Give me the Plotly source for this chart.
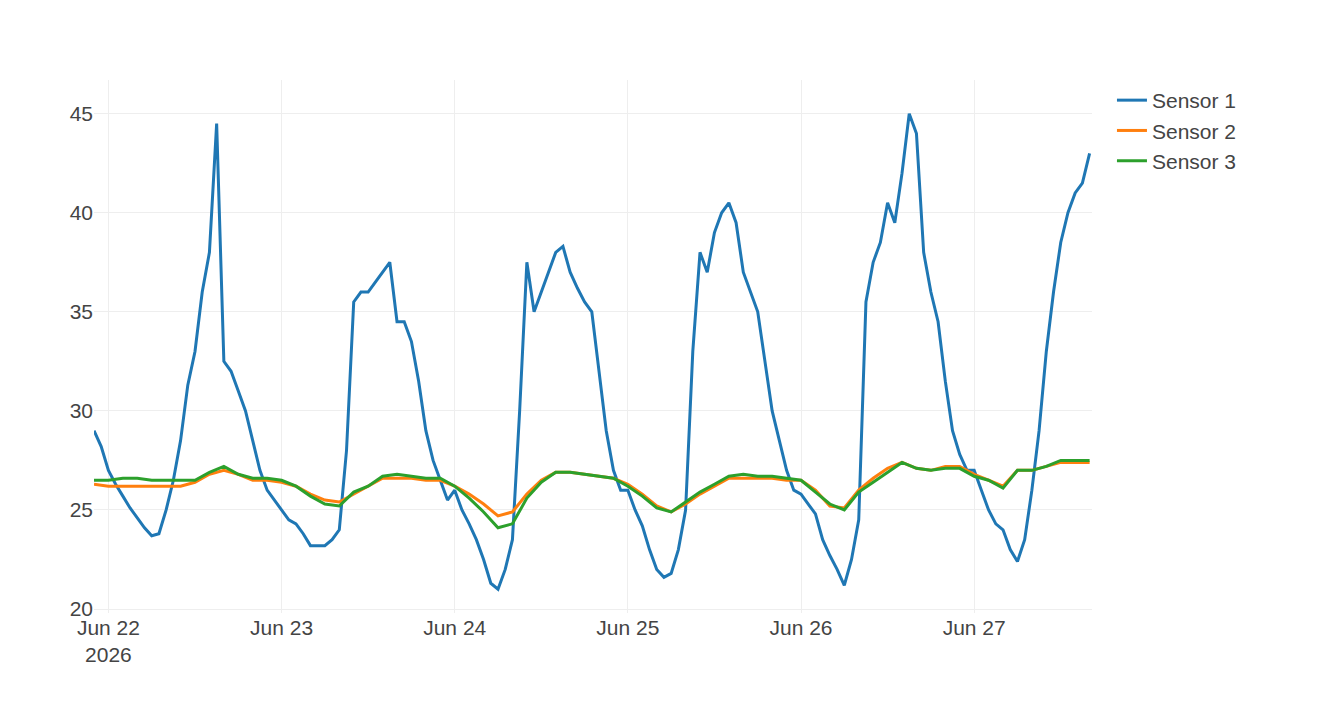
import pandas as pd
import plotly.graph_objects as go

times1 = pd.date_range("2026-06-21 22:00", "2026-06-27 16:00", freq="1h")
times = pd.date_range("2026-06-21 22:00", "2026-06-27 16:00", freq="2h")

sensor1 = [29, 28.2,
    27, 26.3, 25.7, 25.1, 24.6, 24.1, 23.7, 23.8, 25, 26.5, 28.5, 31.3,
    33, 36, 38, 44.5, 32.5, 32, 31, 30, 28.5, 27, 26, 25.5,
    25, 24.5, 24.3, 23.8, 23.2, 23.2, 23.2, 23.5, 24, 28, 35.5, 36,
    36, 36.5, 37, 37.5, 34.5, 34.5, 33.5, 31.5, 29, 27.5, 26.5, 25.5,
    26, 25, 24.3, 23.5, 22.5, 21.3, 21, 22, 23.5, 30, 37.5, 35,
    36, 37, 38, 38.3, 37, 36.2, 35.5, 35, 32, 29, 27, 26,
    26, 25, 24.2, 23, 22, 21.6, 21.8, 23, 25, 33, 38, 37,
    39, 40, 40.5, 39.5, 37, 36, 35, 32.5, 30, 28.5, 27, 26,
    25.8, 25.3, 24.8, 23.5, 22.7, 22, 21.2, 22.5, 24.5, 35.5, 37.5, 38.5,
    40.5, 39.5, 42, 45, 44, 38, 36, 34.5, 31.5, 29, 27.8, 27,
    27, 26, 25, 24.3, 24, 23, 22.4, 23.5, 26, 29, 33, 36,
    38.5, 40, 41, 41.5, 43]

sensor2 = [26.3,
    26.2, 26.2, 26.2, 26.2, 26.2, 26.2, 26.4, 26.8, 27, 26.8, 26.5, 26.5,
    26.4, 26.2, 25.8, 25.5, 25.4, 25.8, 26.2, 26.6, 26.6, 26.6, 26.5, 26.5,
    26.2, 25.8, 25.3, 24.7, 24.9, 25.8, 26.5, 26.9, 26.9, 26.8, 26.7, 26.6,
    26.3, 25.8, 25.2, 24.9, 25.3, 25.8, 26.2, 26.6, 26.6, 26.6, 26.6, 26.5,
    26.5, 26, 25.2, 25.1, 26, 26.6, 27.1, 27.4, 27.1, 27, 27.2, 27.2,
    26.8, 26.5, 26.2, 27, 27, 27.2, 27.4, 27.4, 27.4]

sensor3 = [26.5,
    26.5, 26.6, 26.6, 26.5, 26.5, 26.5, 26.5, 26.9, 27.2, 26.8, 26.6, 26.6,
    26.5, 26.2, 25.7, 25.3, 25.2, 25.9, 26.2, 26.7, 26.8, 26.7, 26.6, 26.6,
    26.2, 25.6, 24.9, 24.1, 24.3, 25.6, 26.4, 26.9, 26.9, 26.8, 26.7, 26.6,
    26.2, 25.7, 25.1, 24.9, 25.4, 25.9, 26.3, 26.7, 26.8, 26.7, 26.7, 26.6,
    26.5, 25.9, 25.3, 25.0, 25.9, 26.4, 26.9, 27.4, 27.1, 27, 27.1, 27.1,
    26.7, 26.5, 26.1, 27, 27, 27.2, 27.5, 27.5, 27.5]

fig = go.Figure()
fig.add_trace(go.Scatter(name="Sensor 1", x=times1, y=sensor1, mode="lines",
                         line=dict(color="#1f77b4", width=3)))
fig.add_trace(go.Scatter(name="Sensor 2", x=times, y=sensor2, mode="lines",
                         line=dict(color="#ff7f0e", width=3)))
fig.add_trace(go.Scatter(name="Sensor 3", x=times, y=sensor3, mode="lines",
                         line=dict(color="#2ca02c", width=3)))

fig.update_layout(
    template="plotly_white",
    width=1340, height=720,
    font=dict(family="Liberation Sans, Arial, sans-serif", size=21, color="#444"),
    margin=dict(l=86, r=256, t=72, b=115),
    legend=dict(font=dict(size=21)),
)
fig.update_yaxes(range=[19.8, 46.7], tickvals=[20, 25, 30, 35, 40, 45],
                 gridcolor="#eeeeee", zeroline=False)
fig.update_xaxes(range=["2026-06-21 22:00", "2026-06-27 16:20"],
                 gridcolor="#eeeeee")

fig.write_html("out.html")
